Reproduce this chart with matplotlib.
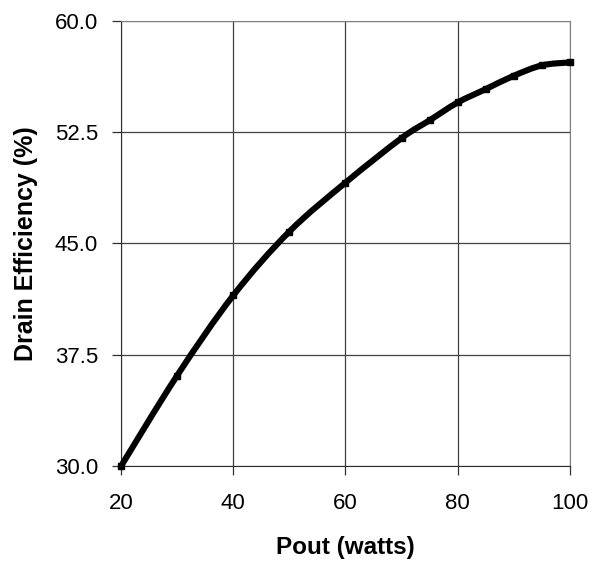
import matplotlib.pyplot as plt
from matplotlib.path import Path
from matplotlib.patches import PathPatch

plt.rcParams['font.family'] = ['Liberation Sans', 'DejaVu Sans']

# данные: выходная мощность и КПД стока
pout = [20, 30, 40, 50, 60, 70, 75, 80, 85, 90, 95, 100]
efficiency = [30.0, 36.1, 41.5, 45.8, 49.1, 52.1, 53.3, 54.5, 55.4, 56.3, 57.0, 57.2]

x_ticks = [20, 40, 60, 80, 100]
y_ticks = [30.0, 37.5, 45.0, 52.5, 60.0]


def smooth_path(X, Y):  # сглаженная линия как в Excel (кривые Безье)
    n = len(X)
    verts = [(X[0], Y[0])]
    codes = [Path.MOVETO]
    for i in range(n - 1):
        x0, y0 = (X[i - 1], Y[i - 1]) if i > 0 else (X[i], Y[i])
        x3, y3 = (X[i + 2], Y[i + 2]) if i + 2 < n else (X[i + 1], Y[i + 1])
        c1 = (X[i] + (X[i + 1] - x0) / 6, Y[i] + (Y[i + 1] - y0) / 6)
        c2 = (X[i + 1] - (x3 - X[i]) / 6, Y[i + 1] - (y3 - Y[i]) / 6)
        verts += [c1, c2, (X[i + 1], Y[i + 1])]
        codes += [Path.CURVE4] * 3
    return Path(verts, codes)


fig = plt.figure(figsize=(6.05, 5.63), dpi=100)
ax = fig.add_axes([0.2, 0.172, 0.742, 0.791])

curve = PathPatch(smooth_path(pout, efficiency), facecolor='none', edgecolor='black',
                  linewidth=4.4, capstyle='round', joinstyle='round', zorder=3,
                  clip_on=False)
ax.add_patch(curve)
ax.plot(pout, efficiency, linestyle='none', color='black', marker='s',
        markersize=5, zorder=4, clip_on=False)

ax.set_xlim(20, 100)
ax.set_ylim(30, 60)
ax.set_xticks(x_ticks)
ax.set_yticks(y_ticks)
ax.set_yticklabels(['{:.1f}'.format(v) for v in y_ticks])
ax.grid(True, color='#404040', linewidth=0.9)
ax.set_axisbelow(True)

for side in ['top', 'right']:
    ax.spines[side].set_color('#808080')
for side in ['left', 'bottom']:
    ax.spines[side].set_color('#303030')

ax.tick_params(direction='out', length=6.5, width=0.9, color='#303030',
               labelsize=16)
ax.tick_params(axis='x', pad=13)
ax.tick_params(axis='y', pad=10)

ax.set_xlabel('Pout (watts)', fontsize=17.5, fontweight='bold', labelpad=16)
ax.set_ylabel('Drain Efficiency (%)', fontsize=18, fontweight='bold',
              labelpad=12)

fig.savefig('out.png', dpi=100)
